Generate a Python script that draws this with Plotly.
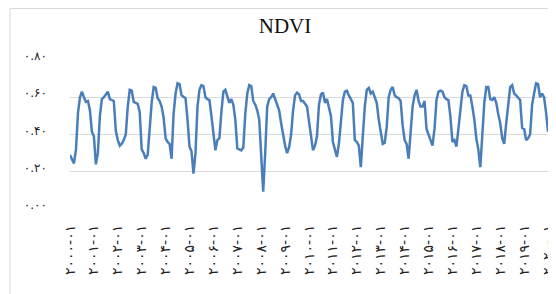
import plotly.graph_objects as go

FA = str.maketrans("0123456789", "۰۱۲۳۴۵۶۷۸۹")

years = list(range(2000, 2021))

ndvi_2000 = [0.29, 0.27, 0.245, 0.32, 0.515, 0.60, 0.63, 0.60, 0.575, 0.58, 0.53, 0.415]
ndvi_2001 = [0.39, 0.24, 0.30, 0.50, 0.59, 0.60, 0.615, 0.63, 0.59, 0.585, 0.58, 0.42]
ndvi_2002 = [0.37, 0.34, 0.35, 0.37, 0.40, 0.55, 0.64, 0.635, 0.575, 0.57, 0.565, 0.52]
ndvi_2003 = [0.32, 0.30, 0.27, 0.29, 0.45, 0.57, 0.655, 0.65, 0.595, 0.58, 0.55, 0.49]
ndvi_2004 = [0.38, 0.36, 0.35, 0.27, 0.51, 0.62, 0.675, 0.67, 0.61, 0.60, 0.595, 0.48]
ndvi_2005 = [0.335, 0.31, 0.19, 0.30, 0.55, 0.64, 0.665, 0.66, 0.60, 0.59, 0.585, 0.50]
ndvi_2006 = [0.40, 0.315, 0.37, 0.38, 0.52, 0.63, 0.64, 0.61, 0.57, 0.59, 0.56, 0.48]
ndvi_2007 = [0.325, 0.32, 0.315, 0.33, 0.51, 0.62, 0.665, 0.66, 0.58, 0.56, 0.53, 0.48]
ndvi_2008 = [0.30, 0.093, 0.30, 0.55, 0.59, 0.60, 0.62, 0.59, 0.55, 0.53, 0.46, 0.39]
ndvi_2009 = [0.34, 0.30, 0.33, 0.40, 0.53, 0.61, 0.625, 0.615, 0.58, 0.58, 0.565, 0.55]
ndvi_2010 = [0.47, 0.39, 0.315, 0.34, 0.39, 0.56, 0.615, 0.625, 0.57, 0.59, 0.54, 0.50]
ndvi_2011 = [0.36, 0.32, 0.28, 0.35, 0.45, 0.585, 0.63, 0.635, 0.61, 0.585, 0.57, 0.37]
ndvi_2012 = [0.36, 0.34, 0.225, 0.39, 0.55, 0.64, 0.65, 0.62, 0.63, 0.60, 0.57, 0.48]
ndvi_2013 = [0.40, 0.35, 0.355, 0.44, 0.60, 0.64, 0.655, 0.61, 0.60, 0.595, 0.58, 0.45]
ndvi_2014 = [0.37, 0.35, 0.27, 0.39, 0.55, 0.61, 0.64, 0.58, 0.55, 0.55, 0.58, 0.43]
ndvi_2015 = [0.40, 0.36, 0.34, 0.43, 0.585, 0.63, 0.635, 0.63, 0.60, 0.59, 0.585, 0.495]
ndvi_2016 = [0.36, 0.37, 0.335, 0.43, 0.53, 0.63, 0.665, 0.66, 0.61, 0.61, 0.55, 0.48]
ndvi_2017 = [0.38, 0.32, 0.225, 0.40, 0.57, 0.655, 0.655, 0.59, 0.585, 0.60, 0.57, 0.51]
ndvi_2018 = [0.46, 0.38, 0.35, 0.46, 0.58, 0.655, 0.665, 0.62, 0.61, 0.60, 0.585, 0.435]
ndvi_2019 = [0.43, 0.37, 0.38, 0.40, 0.56, 0.62, 0.675, 0.67, 0.60, 0.62, 0.60, 0.52]
ndvi_2020 = [0.415]

yearly = [ndvi_2000, ndvi_2001, ndvi_2002, ndvi_2003, ndvi_2004, ndvi_2005, ndvi_2006,
          ndvi_2007, ndvi_2008, ndvi_2009, ndvi_2010, ndvi_2011, ndvi_2012, ndvi_2013,
          ndvi_2014, ndvi_2015, ndvi_2016, ndvi_2017, ndvi_2018, ndvi_2019, ndvi_2020]

categories = []
values = []
for y, vals in zip(years, yearly):
    for m, v in enumerate(vals, start=1):
        categories.append(f"{y}-{m:02d}".translate(FA))
        values.append(v)

x_tickvals = [c for c in categories if c.endswith("-۰۱")]
y_tickvals = [0.0, 0.2, 0.4, 0.6, 0.8]
y_ticktext = [f"{v:.2f}".translate(FA) for v in y_tickvals]

L, R, T, B = 62, 8, 52, 93
PW = 556 - L - R
PH = 294 - T - B

fig = go.Figure()
fig.add_trace(go.Scatter(
    x=categories, y=values, mode="lines",
    line=dict(color="#4A7EBB", width=2.5), hoverinfo="skip", showlegend=False,
))

fig.update_layout(
    width=556, height=294,
    margin=dict(l=L, r=R, t=T, b=B, autoexpand=False),
    paper_bgcolor="white", plot_bgcolor="white",
    title=dict(text="NDVI", x=277/556, xanchor="center", y=1 - 18/294, yanchor="middle",
               font=dict(family="Liberation Serif", size=21, color="#111")),
    font=dict(family="DejaVu Sans", color="#222"),
    xaxis=dict(type="category", range=[0, 244], tickmode="array",
               tickvals=x_tickvals, ticktext=x_tickvals, tickangle=-90,
               showgrid=False, zeroline=False, showline=False, ticks="",
               tickfont=dict(size=14, color="#222"), ticklabelstandoff=12,
               automargin=False),
    yaxis=dict(range=[0, 0.8], tickmode="array", tickvals=y_tickvals, ticktext=y_ticktext,
               showgrid=True, gridcolor="#d9d9d9", gridwidth=1, zeroline=False,
               showline=False, ticks="", tickfont=dict(size=12, color="#222"),
               ticklabelstandoff=22, ticklabelshift=-4, automargin=False),
    shapes=[dict(type="rect", xref="paper", yref="paper",
                 x0=(2 - L) / PW, x1=1.2, y0=-1.0, y1=(PH + T - 0.5) / PH,
                 line=dict(color="#d9d9d9", width=1), fillcolor="rgba(0,0,0,0)",
                 layer="below")],
)

fig.write_html("out.html")
